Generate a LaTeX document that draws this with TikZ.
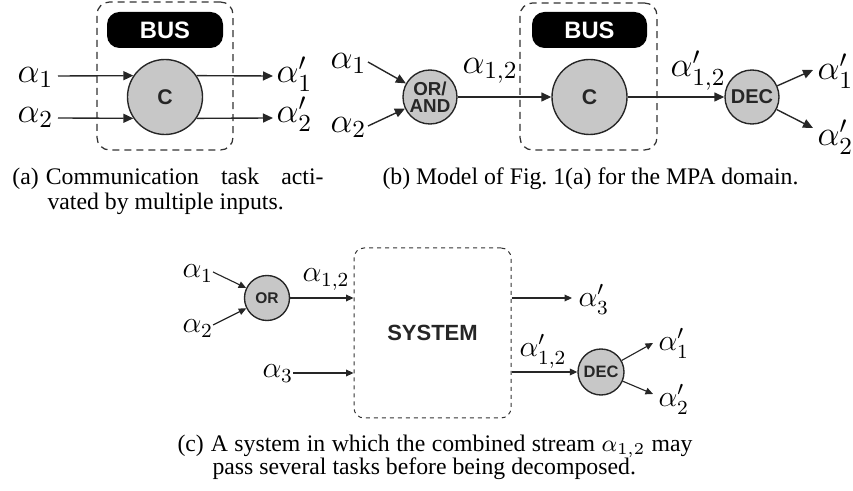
\RequirePackage{fix-cm}
\documentclass[tikz,border=0pt]{standalone}
\usepackage[no-math]{fontspec}
\setmainfont{Liberation Serif}
\newfontfamily\hv{Liberation Sans}
\usetikzlibrary{arrows.meta}
\begin{document}
\begin{tikzpicture}[x=0.4pt,y=-0.4pt,
 conn/.style={draw=black!85, line width=0.55pt},
 arr/.style={conn, -{Triangle[length=4pt,width=3.6pt]}},
 arrs/.style={conn, line width=0.45pt, -{Triangle[length=3pt,width=2.7pt]}},
 task/.style={circle, draw=black!85, line width=0.55pt, fill=black!22, inner sep=0pt, text=black!85, align=center},
 bus/.style={fill=black, rounded corners=5pt, text=white, font=\hv\bfseries\fontsize{9.5}{10}\selectfont, minimum height=14.4pt, inner sep=0pt},
 grp/.style={draw=black!80, line width=0.5pt, dash pattern=on 2.8pt off 2pt, rounded corners=5pt, inner sep=0pt},
 grpc/.style={draw=black!80, line width=0.4pt, dash pattern=on 1.6pt off 1.6pt, rounded corners=4pt, inner sep=0pt, text=black!85},
 lab/.style={anchor=mid west, inner sep=0pt, font=\fontsize{14}{17}\selectfont},
 labs/.style={anchor=mid west, inner sep=0pt, font=\fontsize{12}{15}\selectfont},
 captxt/.style={anchor=base west, inner sep=0pt, font=\fontsize{9.5}{11}\selectfont},
]
\useasboundingbox (0,0) rectangle (853,491);

% ---------- (a)
\node[grp, minimum width=54.4pt, minimum height=59.2pt] (boxa) at (165,76) {};
\node[bus, minimum width=46.4pt] (busa) at (165,30) {BUS};
\node[task, minimum size=30pt, font=\hv\bfseries\fontsize{8.5}{9}\selectfont] (ca) at (165,97) {C};
\coordinate (a1in) at (58,76);
\coordinate (a2in) at (58,118);
\coordinate (a1out) at (273,76);
\coordinate (a2out) at (273,118);
\draw[arr] (a1in) -- (ca.146);
\draw[arr] (a2in) -- (ca.214);
\draw[arr] (ca.34) -- (a1out);
\draw[arr] (ca.-34) -- (a2out);
\node[lab] (la1) at (17,77) {$\alpha_1$};
\node[lab] (la2) at (17,117) {$\alpha_2$};
\node[lab] (la1o) at (276,77) {$\alpha'_1$};
\node[lab] (la2o) at (276,117) {$\alpha'_2$};

% ---------- (b)
\node[lab] (lb1) at (330,63) {$\alpha_1$};
\node[lab] (lb2) at (330,127) {$\alpha_2$};
\coordinate (b1s) at (368,62);
\coordinate (b2s) at (368,126);
\node[task, minimum size=21.6pt, font=\hv\bfseries\fontsize{7.5}{6.8}\selectfont] (orand) at (430,97) {OR/\\AND};
\draw[arr] (b1s) -- (orand);
\draw[arr] (b2s) -- (orand);
\node[grp, minimum width=54.8pt, minimum height=58.8pt] (boxb) at (588.5,76.5) {};
\node[bus, minimum width=46pt] (busb) at (589.5,30) {BUS};
\node[task, minimum size=30pt, font=\hv\bfseries\fontsize{8.5}{9}\selectfont] (cb) at (589.5,97) {C};
\draw[arr] (orand) -- (cb);
\node[lab] (lb12) at (462,68) {$\alpha_{1,2}$};
\node[task, minimum size=21.6pt, font=\hv\bfseries\fontsize{8}{9}\selectfont] (decb) at (752,97) {DEC};
\draw[arr] (cb) -- (decb);
\node[lab] (lb12o) at (670,71) {$\alpha'_{1,2}$};
\coordinate (bo1) at (813,70);
\coordinate (bo2) at (813,128);
\draw[arr] (decb) -- (bo1);
\draw[arr] (decb) -- (bo2);
\node[lab] (lb1o) at (817,74) {$\alpha'_1$};
\node[lab] (lb2o) at (817,140) {$\alpha'_2$};

% ---------- captions (a), (b)
\node[captxt] (capa1) at (12,185) {\makebox[124.4pt][s]{(a)\hspace{2.8pt}Communication task acti-}};
\node[captxt] (capa2) at (47,210) {vated by multiple inputs.};
\node[captxt] (capb) at (382,185) {(b) Model of Fig.~1(a) for the MPA domain.};

% ---------- (c)
\node[labs] (lc1) at (182,272) {$\alpha_1$};
\node[labs] (lc2) at (182,327) {$\alpha_2$};
\coordinate (c1s) at (213,272);
\coordinate (c2s) at (213,325);
\node[task, minimum size=18pt, font=\hv\bfseries\fontsize{6.2}{7}\selectfont] (orc) at (267,298) {OR};
\draw[arrs] (c1s) -- (orc);
\draw[arrs] (c2s) -- (orc);
\node[grpc, minimum width=62.8pt, minimum height=68pt, font=\hv\bfseries\fontsize{8.8}{10}\selectfont] (sys) at (432.5,333) {SYSTEM};
\draw[arrs] (orc) -- (sys.west |- orc);
\node[labs] (lc12) at (302,276) {$\alpha_{1,2}$};
\node[labs] (lc3) at (262,372) {$\alpha_3$};
\coordinate (c3s) at (293,373);
\draw[arrs] (c3s) -- (sys.west |- c3s);
\coordinate (c3o) at (572,298);
\draw[arrs] (sys.east |- c3o) -- (c3o);
\node[labs] (lc3o) at (578,301) {$\alpha'_3$};
\node[task, minimum size=18.4pt, font=\hv\bfseries\fontsize{6.6}{7}\selectfont] (decc) at (601,372) {DEC};
\draw[arrs] (sys.east |- decc) -- (decc);
\node[labs] (lc12o) at (519,351) {$\alpha'_{1,2}$};
\coordinate (co1) at (653,343);
\coordinate (co2) at (653,394);
\draw[arrs] (decc) -- (co1);
\draw[arrs] (decc) -- (co2);
\node[labs] (lc1o) at (658,345) {$\alpha'_1$};
\node[labs] (lc2o) at (658,401) {$\alpha'_2$};

% ---------- caption (c)
\node[captxt] (capc1) at (177,452) {\makebox[206pt][s]{(c)\hspace{2.8pt}A system in which the combined stream $\alpha_{1,2}$ may}};
\node[captxt] (capc2) at (212,475) {pass several tasks before being decomposed.};
\end{tikzpicture}
\end{document}
